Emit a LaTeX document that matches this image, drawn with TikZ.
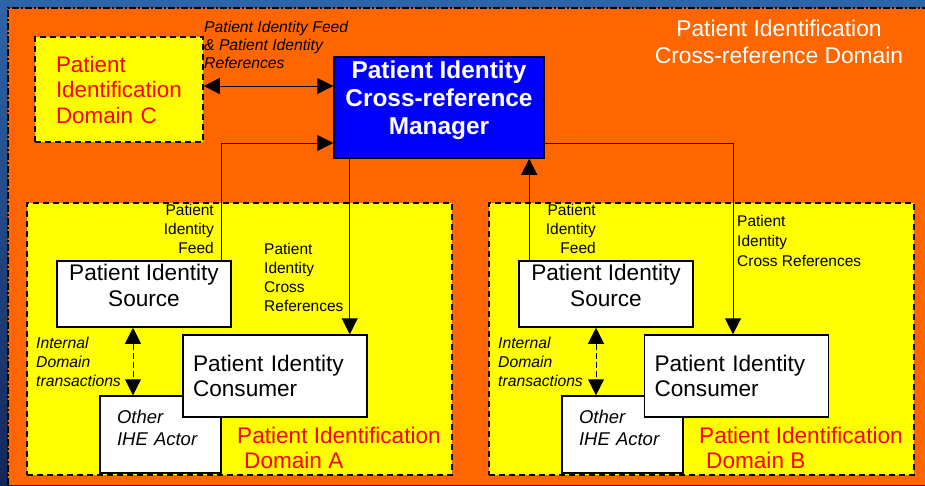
\documentclass[tikz,border=0pt]{standalone}
\usepackage{fontspec}
\setmainfont{Liberation Sans}
\usetikzlibrary{arrows.meta}
\definecolor{bgtop}{HTML}{2E65A8}
\definecolor{bgbot}{HTML}{13275A}
\definecolor{xorange}{HTML}{FF6600}
\definecolor{domyellow}{HTML}{FFFF00}
\definecolor{mgrblue}{HTML}{0000FF}
\begin{document}
\begin{tikzpicture}[x=1pt,y=-1pt,
    actor/.style={draw,line width=1.5pt,fill=white,inner sep=0pt,font=\fontsize{22.6}{25.5}\selectfont},
    domainbox/.style={draw,fill=domyellow,line width=1.5pt,dash pattern=on 6pt off 4pt,inner sep=0pt},
    domlabel/.style={text=red,align=left,inner sep=0pt,anchor=base west,font=\fontsize{22.6}{25}\selectfont},
    trans/.style={align=left,inner sep=0pt,font=\fontsize{15.5}{19}\selectfont},
    msg/.style={-{Triangle[length=16pt,width=16pt]},line width=1pt},
    both/.style={{Triangle[length=16pt,width=16pt]}-{Triangle[length=16pt,width=16pt]},line width=1pt}]
    \useasboundingbox (0,0) rectangle (925,485);
    \shade[top color=bgtop,bottom color=bgbot] (0,0) rectangle (925,485);
    \fill[xorange] (8,8) rectangle (925,485);
    \draw[line width=1.2pt,dash pattern=on 7pt off 2pt on 2pt off 2pt] (8,485) -- (8,8) -- (925,8);

    \node[text=white,align=center,inner sep=0pt,anchor=base,font=\fontsize{22.8}{27}\selectfont] (xdom) at (779,63) {Patient Identification\\Cross-reference Domain};

    % domains
    \node[domainbox,text=red,align=left,text width=126,minimum width=168,minimum height=105,font=\fontsize{22.4}{25.5}\selectfont] (domC) at (119,89.5) {Patient\\Identification\\Domain C};
    \node[domainbox,minimum width=425,minimum height=272] (domA) at (239.5,339) {};
    \node[domainbox,minimum width=425,minimum height=272] (domB) at (701.5,339) {};
    \node[domlabel] (labA) at (237,468) {Patient Identification\\\hspace*{7pt}Domain A};
    \node[domlabel] (labB) at (699,468) {Patient Identification\\\hspace*{7pt}Domain B};

    % manager
    \node[draw,line width=1.5pt,fill=mgrblue,text=white,align=center,inner sep=0pt,minimum width=210,minimum height=101,text depth=19pt,font=\bfseries\fontsize{24.4}{28}\selectfont] (mgr) at (439,107.5) {Patient Identity\\Cross-reference\\Manager};

    % domain A actors
    \node[actor,font=\itshape\fontsize{18.5}{22}\selectfont,align=left,text width=87,minimum width=121,minimum height=77,text depth=36pt] (othA) at (160.5,434.5) {Other\\IHE Actor};
    \node[actor,align=left,text width=164,minimum width=184,minimum height=82] (consA) at (275,376) {Patient Identity\\Consumer};
    \node[actor,align=center,minimum width=174,minimum height=66,text depth=17pt] (srcA) at (144,294) {Patient Identity\\Source};

    % domain B actors
    \node[actor,font=\itshape\fontsize{18.5}{22}\selectfont,align=left,text width=87,minimum width=121,minimum height=77,text depth=36pt] (othB) at (622.5,434.5) {Other\\IHE Actor};
    \node[actor,align=left,text width=164,minimum width=184,minimum height=82] (consB) at (736.5,376) {Patient Identity\\Consumer};
    \node[actor,align=center,minimum width=174,minimum height=66,text depth=17pt] (srcB) at (606,294) {Patient Identity\\Source};

    % transaction labels
    \node[trans,anchor=base west,font=\itshape\fontsize{15.7}{18}\selectfont] (feedC) at (204,68) {Patient Identity Feed\\\& Patient Identity\\References};
    \node[trans,align=right,anchor=base east] (feedA) at (214,253) {Patient\\Identity\\Feed};
    \node[trans,anchor=base west,font=\fontsize{15.5}{18.7}\selectfont] (xrefA) at (264,311) {Patient\\Identity\\Cross\\References};
    \node[trans,anchor=base west,font=\itshape\fontsize{15.7}{19}\selectfont] (intA) at (36,386) {Internal\\Domain\\transactions};
    \node[trans,align=right,anchor=base east] (feedB) at (596,253) {Patient\\Identity\\Feed};
    \node[trans,anchor=base west,font=\fontsize{15.5}{20}\selectfont] (xrefB) at (737,266) {Patient\\Identity\\Cross References};
    \node[trans,anchor=base west,font=\itshape\fontsize{15.7}{19}\selectfont] (intB) at (498,386) {Internal\\Domain\\transactions};

    % connectors
    \draw[both] ([yshift=3.5pt]domC.east) -- ([yshift=3.5pt]domC.east -| mgr.west);
    \draw[msg] ([xshift=-10pt]srcA.north east) |- ([yshift=-35.5pt]mgr.west);
    \draw[msg] ([xshift=-18pt]consA.north east |- mgr.south) -- ([xshift=-18pt]consA.north east);
    \draw[msg] ([xshift=11pt]srcB.north west) -- ([xshift=11pt]srcB.north west |- mgr.south);
    \draw[msg] ([yshift=-35.5pt]mgr.east) -| ([xshift=-3.5pt]consB.north);
    \draw[both,dash pattern=on 6pt off 3pt] ([xshift=-11pt]srcA.south) -- ([xshift=-11pt]srcA.south |- othA.north);
    \draw[both,dash pattern=on 6pt off 3pt] ([xshift=-10pt]srcB.south) -- ([xshift=-10pt]srcB.south |- othB.north);
\end{tikzpicture}
\end{document}
